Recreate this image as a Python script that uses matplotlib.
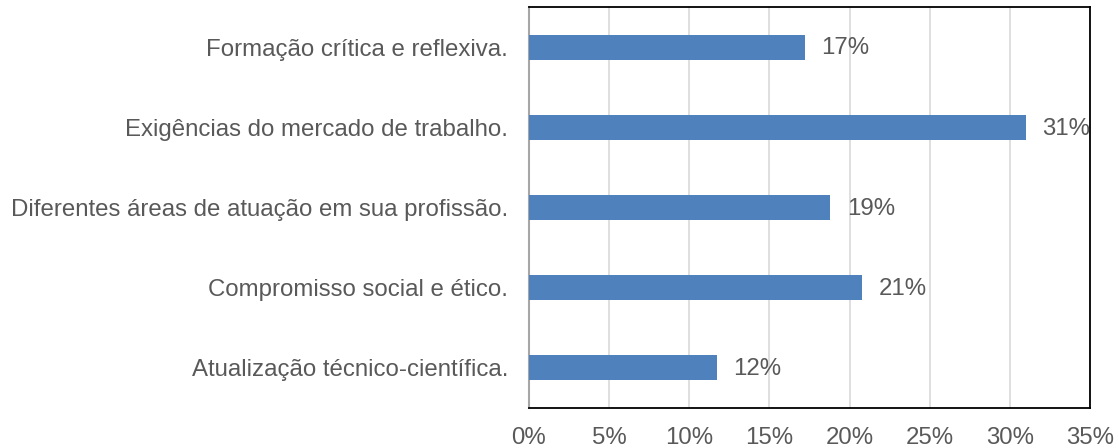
import matplotlib
matplotlib.use("Agg")
import matplotlib.pyplot as plt
from matplotlib.ticker import PercentFormatter

categories = [
    "Formação crítica e reflexiva.",
    "Exigências do mercado de trabalho.",
    "Diferentes áreas de atuação em sua profissão.",
    "Compromisso social e ético.",
    "Atualização técnico-científica.",
]
values = [0.172, 0.31, 0.188, 0.208, 0.117]
value_labels = ["17%", "31%", "19%", "21%", "12%"]
x_ticks = [0, 0.05, 0.10, 0.15, 0.20, 0.25, 0.30, 0.35]

BAR_COLOR = "#4F81BD"
TEXT_COLOR = "#595959"
FS = 17.3

plt.rcParams["font.family"] = ["Liberation Sans", "DejaVu Sans"]

fig = plt.figure(figsize=(11.19, 4.48), dpi=100)
ax = fig.add_axes([529 / 1119, 40 / 448, (1090 - 529) / 1119, 401 / 448])

ypos = list(range(len(categories)))
ax.barh(ypos, values, height=0.31, color=BAR_COLOR, zorder=3)

for y, v, lab in zip(ypos, values, value_labels):
    ax.annotate(lab, (v, y), xytext=(12, -1), textcoords="offset points",
                va="center", ha="left", fontsize=FS, color=TEXT_COLOR, zorder=4)

ax.set_ylim(len(categories) - 0.5, -0.5)
ax.set_yticks(ypos)
ax.set_yticklabels(categories, fontsize=FS, color=TEXT_COLOR)
ax.set_xlim(0, 0.35)
ax.set_xticks(x_ticks)
ax.xaxis.set_major_formatter(PercentFormatter(1.0, decimals=0))
ax.tick_params(axis="x", labelsize=FS, labelcolor=TEXT_COLOR, length=0, pad=14)
ax.tick_params(axis="y", length=0, pad=15)

ax.grid(axis="x", color="#d9d9d9", linewidth=1.2, zorder=0)
for side in ["top", "right", "bottom"]:
    ax.spines[side].set_color("black")
    ax.spines[side].set_linewidth(1.3)
ax.spines["left"].set_color("#a6a6a6")
ax.spines["left"].set_linewidth(1.5)

fig.savefig("out.png", dpi=100)
